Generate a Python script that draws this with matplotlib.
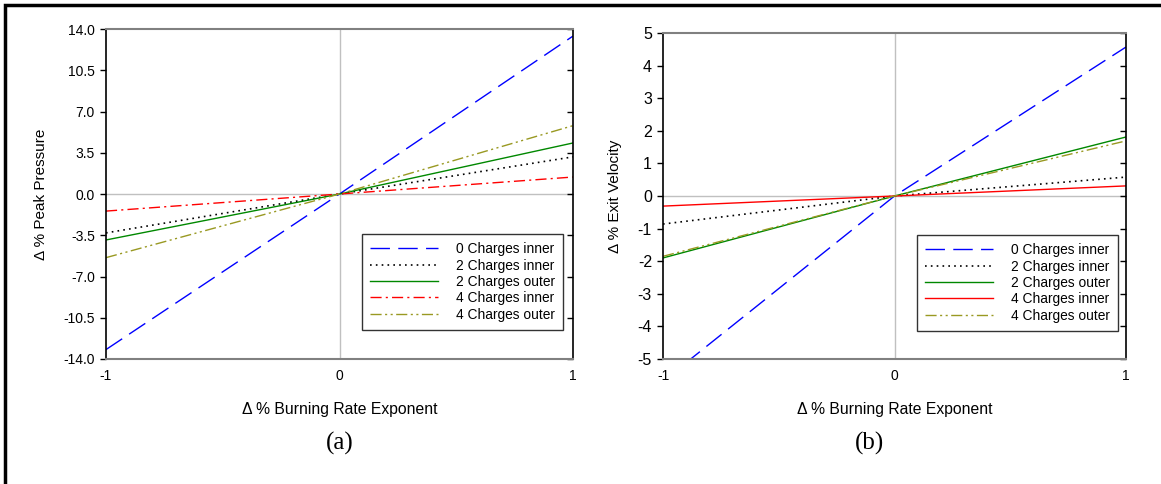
import matplotlib.pyplot as plt
from matplotlib.patches import Rectangle

plt.rcParams['font.family'] = ['Liberation Sans', 'DejaVu Sans']

x = [-1, 0, 1]
labels = ['0 Charges inner', '2 Charges inner', '2 Charges outer',
          '4 Charges inner', '4 Charges outer']

# peak pressure change at x = -1, 0, 1
pressure_0_inner = [-13.2, 0, 13.4]
pressure_2_inner = [-3.3, 0, 3.15]
pressure_2_outer = [-3.9, 0, 4.33]
pressure_4_inner = [-1.45, 0, 1.44]
pressure_4_outer = [-5.4, 0, 5.8]

# exit velocity change at x = -1, 0, 1
velocity_0_inner = [-5.68, 0, 4.57]
velocity_2_inner = [-0.86, 0, 0.58]
velocity_2_outer = [-1.9, 0, 1.81]
velocity_4_inner = [-0.31, 0, 0.31]
velocity_4_outer = [-1.85, 0, 1.69]

pressure_ticks = [14.0, 10.5, 7.0, 3.5, 0.0, -3.5, -7.0, -10.5, -14.0]
velocity_ticks = [5, 4, 3, 2, 1, 0, -1, -2, -3, -4, -5]

blue_style = dict(color='#0000ff', dashes=(14, 6), lw=1.0)
black_style = dict(color='black', dashes=(1, 2.5), lw=1.2)
green_style = dict(color='#008800', ls='-', lw=1.0)
red_dashdot = dict(color='#ff0000', dashes=(8, 3, 1.5, 3), lw=1.0)
red_solid = dict(color='#ff0000', ls='-', lw=1.0)
olive_style = dict(color='#999922', dashes=(8, 2.5, 1.5, 2.5, 1.5, 2.5), lw=1.0)

fig = plt.figure(figsize=(11.61, 4.84), dpi=100)

# frame around the figure (only left and top edges fall inside the image)
fig.patches.append(Rectangle((5 / 1161, -0.1), 1.2, (479 / 484) + 0.1,
                             transform=fig.transFigure, fill=False,
                             edgecolor='black', lw=2.5))


def style_axes(ax, ticks, fmt, labelsize):
    ax.set_xlim(-1, 1)
    ax.set_ylim(ticks[-1], ticks[0])
    ax.set_xticks([-1, 0, 1])
    ax.set_xticklabels(['-1', '0', '1'])
    ax.set_yticks(ticks)
    ax.set_yticklabels([fmt.format(t) for t in ticks])
    ax.axhline(0, color='#c0c0c0', lw=1, zorder=0)
    ax.axvline(0, color='#c0c0c0', lw=1, zorder=0)
    for side in ['top', 'bottom']:
        ax.spines[side].set_color('#808080')
        ax.spines[side].set_linewidth(1.5)
    ax.spines['left'].set_linewidth(1.2)
    ax.spines['right'].set_linewidth(1.2)
    ax.tick_params(axis='y', left=True, right=True, direction='out',
                   length=4, width=1, labelsize=labelsize, pad=4)
    ax.tick_params(axis='x', length=0, labelsize=labelsize, pad=7)
    # right-hand ticks point inward
    for t in ax.yaxis.get_major_ticks():
        t.tick2line.set_marker(0)
        t.tick2line.set_markersize(4)
        t.tick2line.set_color('#606060')


def add_legend(ax, anchor):
    leg = ax.legend(loc='upper left', bbox_to_anchor=anchor, fontsize=9.9,
                    handlelength=4.9, handletextpad=1.3, labelspacing=0.17,
                    frameon=True, fancybox=False, edgecolor='black',
                    borderpad=0.6, borderaxespad=0)
    leg.get_frame().set_linewidth(1.0)


ax1 = fig.add_axes([106 / 1161, 1 - 359 / 484, 467 / 1161, 330 / 484])
ax1.plot(x, pressure_0_inner, label=labels[0], **blue_style)
ax1.plot(x, pressure_2_inner, label=labels[1], **black_style)
ax1.plot(x, pressure_2_outer, label=labels[2], **green_style)
ax1.plot(x, pressure_4_inner, label=labels[3], **red_dashdot)
ax1.plot(x, pressure_4_outer, label=labels[4], **olive_style)
style_axes(ax1, pressure_ticks, '{:.1f}', 10)
ax1.set_ylabel('Δ % Peak Pressure', fontsize=11, labelpad=11)
ax1.set_xlabel('Δ % Burning Rate Exponent', fontsize=11.3, labelpad=14)
add_legend(ax1, ((362 - 106) / 467, (359 - 234) / 330))
fig.text(340 / 1161, 1 - 443 / 484, '(a)', family='Liberation Serif',
         fontsize=18, ha='center', va='center')

ax2 = fig.add_axes([663 / 1161, 1 - 359 / 484, 463 / 1161, 326 / 484])
ax2.plot(x, velocity_0_inner, label=labels[0], **blue_style)
ax2.plot(x, velocity_2_inner, label=labels[1], **black_style)
ax2.plot(x, velocity_2_outer, label=labels[2], **green_style)
ax2.plot(x, velocity_4_inner, label=labels[3], **red_solid)
ax2.plot(x, velocity_4_outer, label=labels[4], **olive_style)
style_axes(ax2, velocity_ticks, '{:d}', 10)
ax2.tick_params(axis='y', labelsize=11.5)
ax2.set_ylabel('Δ % Exit Velocity', fontsize=11, labelpad=11)
ax2.set_xlabel('Δ % Burning Rate Exponent', fontsize=11.3, labelpad=14)
add_legend(ax2, ((917 - 663) / 463, (359 - 235) / 326))
fig.text(870 / 1161, 1 - 443 / 484, '(b)', family='Liberation Serif',
         fontsize=18, ha='center', va='center')

fig.savefig('out.png', dpi=100)
